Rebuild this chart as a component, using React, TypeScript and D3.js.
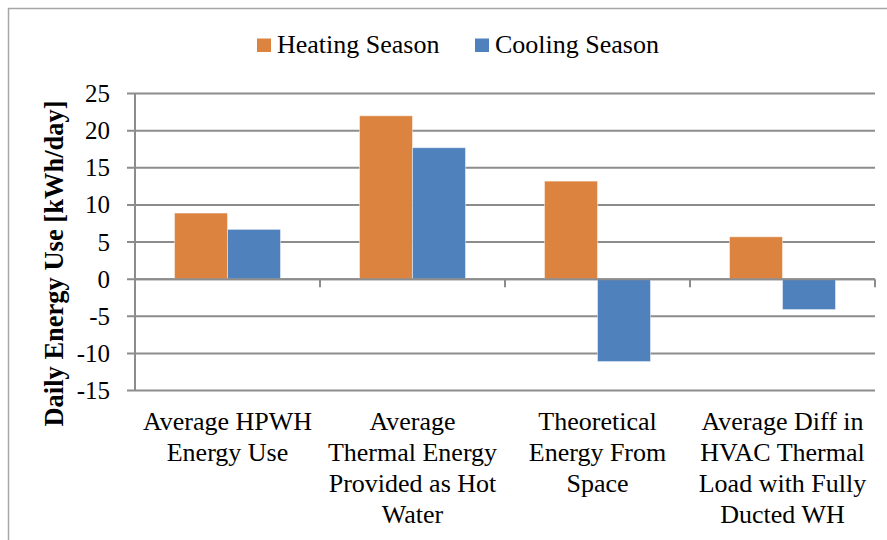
import React from "react";
import * as d3 from "d3";

const categories: string[][] = [
  ["Average HPWH", "Energy Use"],
  ["Average", "Thermal Energy", "Provided as Hot", "Water"],
  ["Theoretical", "Energy From", "Space"],
  ["Average Diff in", "HVAC Thermal", "Load with Fully", "Ducted WH"],
];
const seriesNames = ["Heating Season", "Cooling Season"];
const heating = [8.9, 22.0, 13.2, 5.7];
const cooling = [6.7, 17.7, -11.1, -4.1];
const yTicks = [25, 20, 15, 10, 5, 0, -5, -10, -15];
const colors = ["#dc843f", "#4f81bd"];

const W = 887;
const H = 540;
const left = 135;
const right = 875;
const top = 93.5;
const bottom = 390.5;
const fontStyle = { fontFamily: '"Liberation Serif", "DejaVu Serif", serif' };

export default function App() {
  const y = d3.scaleLinear().domain([-15, 25]).range([bottom, top]);
  const x0 = d3
    .scaleBand<number>()
    .domain(categories.map((_, i) => i))
    .range([left, right])
    .padding(0);
  const bw = x0.bandwidth();
  const gap = (bw * 79) / 185;
  const x1 = d3
    .scaleBand<number>()
    .domain([0, 1])
    .range([gap / 2, bw - gap / 2])
    .padding(0);
  const series = [heating, cooling];
  const zeroY = y(0);

  return (
    <svg
      width={W}
      height={H}
      style={{ position: "absolute", left: 0, top: 0, background: "#fff", ...fontStyle }}
    >
      <rect x={0} y={0} width={W} height={H} fill="#fff" />
      <rect
        x={8.5}
        y={8.5}
        width={W + 20}
        height={H + 20}
        fill="none"
        stroke="#a6a6a6"
        strokeWidth={1.5}
      />
      {yTicks.map((t) => (
        <g key={t}>
          <line
            x1={127}
            x2={right}
            y1={y(t)}
            y2={y(t)}
            stroke="#8c8c8c"
            strokeWidth={2}
          />
          <text
            x={110}
            y={y(t)}
            dy="0.34em"
            textAnchor="end"
            fontSize={25}
            fill="#000"
            style={fontStyle}
          >
            {t}
          </text>
        </g>
      ))}
      <line x1={left} x2={left} y1={top} y2={bottom} stroke="#8c8c8c" strokeWidth={2} />
      {series.map((vals, si) =>
        vals.map((v, ci) => {
          const bx = (x0(ci) ?? 0) + (x1(si) ?? 0);
          const y0 = Math.min(y(v), zeroY);
          const h = Math.abs(y(v) - zeroY);
          return (
            <rect
              key={`${si}-${ci}`}
              x={bx}
              y={y0}
              width={x1.bandwidth()}
              height={h}
              fill={colors[si]}
              stroke="#ffffff"
              strokeOpacity={0.45}
              strokeWidth={1}
            />
          );
        })
      )}
      <line x1={left} x2={right} y1={zeroY} y2={zeroY} stroke="#8c8c8c" strokeWidth={2} />
      {d3.range(categories.length + 1).map((i) => {
        const xx = left + i * bw;
        return (
          <line
            key={i}
            x1={xx}
            x2={xx}
            y1={zeroY}
            y2={zeroY + 8}
            stroke="#8c8c8c"
            strokeWidth={2}
          />
        );
      })}
      {categories.map((lines, ci) => {
        const cx = (x0(ci) ?? 0) + bw / 2;
        return (
          <text key={ci} textAnchor="middle" fontSize={26} fill="#000" style={fontStyle}>
            {lines.map((ln, li) => (
              <tspan key={li} x={cx} y={430 + li * 31}>
                {ln}
              </tspan>
            ))}
          </text>
        );
      })}
      <text
        transform={`translate(63, 263.5) rotate(-90)`}
        textAnchor="middle"
        fontSize={26.5}
        fontWeight="bold"
        fill="#000"
        style={fontStyle}
      >
        Daily Energy Use [kWh/day]
      </text>
      {seriesNames.map((name, i) => {
        const lx = i === 0 ? 257 : 475;
        return (
          <g key={name}>
            <rect x={lx} y={38.5} width={14} height={13.5} fill={colors[i]} />
            <text x={lx + 20} y={52.5} fontSize={26} fill="#000" style={fontStyle}>
              {name}
            </text>
          </g>
        );
      })}
    </svg>
  );
}
